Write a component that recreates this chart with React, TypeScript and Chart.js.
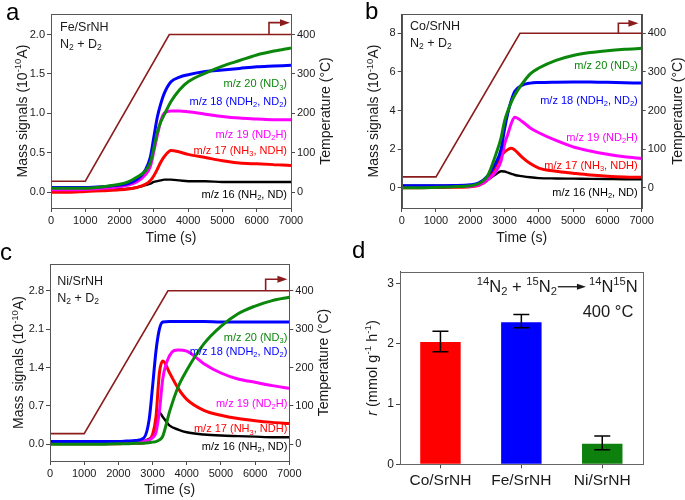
import React, { useEffect, useRef } from 'react';
import { Chart, registerables } from 'chart.js';

Chart.register(...registerables);

const FONT = '"Liberation Sans", Arial, Helvetica, sans-serif';
const TEXT = '#1a1a1a';
const AXIS = '#4a4a4a';
const TEMP_COLOR = '#8b1c1c';
const GREEN = '#0b870b';
const BLUE = '#0000ff';
const MAGENTA = '#ff00ff';
const RED = '#ff0000';
const BLACK = '#000000';

// ---------- data ----------
const TIME = [0, 500, 1000, 1500, 2000, 2250, 2500, 2750, 2900, 3000, 3100, 3200, 3300, 3500, 3750, 4000, 4500, 5000, 5500, 6000, 6500, 7000];
const TIME_TICKS = [0, 1000, 2000, 3000, 4000, 5000, 6000, 7000];
const TEMP_TIME = [0, 1000, 3450, 7000];
const TEMP_C = [28, 28, 400, 400];
const TEMP_TICKS = [0, 100, 200, 300, 400];

// Panel a: Fe/SrNH
const A_GREEN = [0.05, 0.05, 0.05, 0.07, 0.10, 0.13, 0.19, 0.27, 0.38, 0.56, 0.76, 0.89, 0.98, 1.15, 1.30, 1.40, 1.51, 1.60, 1.67, 1.74, 1.79, 1.83];
const A_BLUE = [0.06, 0.06, 0.06, 0.07, 0.09, 0.11, 0.16, 0.28, 0.45, 0.70, 0.95, 1.12, 1.25, 1.40, 1.46, 1.49, 1.53, 1.55, 1.57, 1.59, 1.60, 1.61];
const A_MAGENTA = [0.03, 0.03, 0.035, 0.05, 0.07, 0.09, 0.13, 0.22, 0.33, 0.52, 0.72, 0.90, 1.00, 1.03, 1.03, 1.02, 0.99, 0.96, 0.94, 0.93, 0.92, 0.92];
const A_RED = [0.0, 0.0, 0.01, 0.02, 0.03, 0.04, 0.06, 0.10, 0.15, 0.21, 0.29, 0.38, 0.45, 0.53, 0.51, 0.48, 0.44, 0.40, 0.37, 0.36, 0.35, 0.34];
const A_BLACK = [0.03, 0.03, 0.03, 0.035, 0.04, 0.045, 0.06, 0.09, 0.11, 0.13, 0.14, 0.15, 0.16, 0.16, 0.15, 0.14, 0.14, 0.13, 0.13, 0.13, 0.13, 0.13];
const A_TICKS = [0, 0.5, 1.0, 1.5, 2.0];
const A_LABEL_Y = [1.38, 1.16, 0.74, 0.54, -0.02];

// Panel b: Co/SrNH
const B_GREEN = [0.0, 0.0, 0.02, 0.05, 0.10, 0.22, 0.6, 1.75, 2.6, 3.45, 4.0, 4.45, 4.8, 5.35, 5.9, 6.2, 6.6, 6.85, 7.0, 7.1, 7.17, 7.22];
const B_BLUE = [0.1, 0.1, 0.1, 0.11, 0.15, 0.25, 0.6, 1.3, 2.0, 3.05, 3.9, 4.55, 5.0, 5.3, 5.42, 5.45, 5.47, 5.48, 5.48, 5.46, 5.44, 5.42];
const B_MAGENTA = [0.05, 0.05, 0.05, 0.06, 0.08, 0.15, 0.4, 0.85, 1.4, 2.25, 2.8, 3.35, 3.65, 3.45, 3.1, 2.85, 2.45, 2.12, 1.9, 1.73, 1.6, 1.52];
const B_RED = [0.0, 0.0, 0.01, 0.02, 0.05, 0.12, 0.4, 1.15, 1.65, 1.85, 1.98, 2.04, 1.95, 1.6, 1.25, 1.02, 0.85, 0.75, 0.66, 0.6, 0.56, 0.54];
const B_BLACK = [0.1, 0.1, 0.1, 0.1, 0.12, 0.2, 0.4, 0.7, 0.85, 0.84, 0.78, 0.72, 0.66, 0.6, 0.54, 0.5, 0.48, 0.47, 0.46, 0.45, 0.44, 0.44];
const B_TICKS = [0, 2, 4, 6, 8];
const B_LABEL_Y = [6.36, 4.54, 2.63, 1.18, -0.2];

// Panel c: Ni/SrNH
const C_GREEN = [0.0, 0.0, 0.0, 0.0, 0.01, 0.01, 0.02, 0.02, 0.03, 0.04, 0.05, 0.08, 0.15, 0.6, 1.05, 1.35, 1.83, 2.15, 2.38, 2.52, 2.62, 2.68];
const C_BLUE = [0.05, 0.05, 0.05, 0.05, 0.05, 0.06, 0.07, 0.12, 0.45, 1.05, 1.7, 2.1, 2.23, 2.24, 2.24, 2.24, 2.24, 2.23, 2.23, 2.23, 2.23, 2.23];
const C_MAGENTA = [0.03, 0.03, 0.03, 0.03, 0.03, 0.04, 0.04, 0.06, 0.08, 0.12, 0.22, 0.6, 1.2, 1.62, 1.72, 1.70, 1.47, 1.3, 1.19, 1.13, 1.07, 1.02];
const C_RED = [0.01, 0.01, 0.01, 0.01, 0.01, 0.02, 0.02, 0.03, 0.08, 0.18, 0.5, 1.3, 1.52, 1.3, 1.02, 0.82, 0.62, 0.53, 0.47, 0.43, 0.40, 0.38];
const C_BLACK = [0.02, 0.02, 0.02, 0.02, 0.02, 0.03, 0.04, 0.06, 0.1, 0.14, 0.3, 0.58, 0.5, 0.34, 0.27, 0.22, 0.18, 0.16, 0.15, 0.14, 0.13, 0.13];
const C_TICKS = [0, 0.7, 1.4, 2.1, 2.8];
const C_LABEL_Y = [1.96, 1.70, 0.76, 0.29, -0.03];

const SERIES_LABELS = [
  'm/z 20 (ND_{3})',
  'm/z 18 (NDH_{2}, ND_{2})',
  'm/z 19 (ND_{2}H)',
  'm/z 17 (NH_{3}, NDH)',
  'm/z 16 (NH_{2}, ND)',
];
const SERIES_COLORS = [GREEN, BLUE, MAGENTA, RED, BLACK];

// Panel d
const CATS = ['Co/SrNH', 'Fe/SrNH', 'Ni/SrNH'];
const RATE = [2.03, 2.36, 0.34];
const ERR_HIGH = [2.21, 2.49, 0.47];
const ERR_LOW = [1.87, 2.27, 0.24];
const RATE_TICKS = [0, 1, 2, 3];
const BAR_COLORS = ['#ff0000', '#0000ff', '#0d800d'];

// ---------- rich text ----------
type Seg = { t: string; k: 'n' | 'sub' | 'sup' | 'it' };
function parseRich(s: string): Seg[] {
  const segs: Seg[] = [];
  let buf = '';
  let i = 0;
  while (i < s.length) {
    const c = s[i];
    if ((c === '_' || c === '^' || c === '*') && s[i + 1] === '{') {
      if (buf) { segs.push({ t: buf, k: 'n' }); buf = ''; }
      const end = s.indexOf('}', i + 2);
      segs.push({ t: s.slice(i + 2, end), k: c === '_' ? 'sub' : c === '^' ? 'sup' : 'it' });
      i = end + 1;
    } else { buf += c; i++; }
  }
  if (buf) segs.push({ t: buf, k: 'n' });
  return segs;
}
function segFont(k: string, size: number) {
  const fs = k === 'sub' || k === 'sup' ? size * 0.68 : size;
  return `${k === 'it' ? 'italic ' : ''}${fs}px ${FONT}`;
}
function measureRich(ctx: CanvasRenderingContext2D, s: string, size: number) {
  let w = 0;
  for (const seg of parseRich(s)) { ctx.font = segFont(seg.k, size); w += ctx.measureText(seg.t).width; }
  return w;
}
function drawRich(ctx: CanvasRenderingContext2D, s: string, x: number, y: number, size: number, color: string, align: string) {
  ctx.save();
  ctx.fillStyle = color;
  ctx.textAlign = 'left';
  ctx.textBaseline = 'alphabetic';
  const w = measureRich(ctx, s, size);
  let cx = align === 'right' ? x - w : align === 'center' ? x - w / 2 : x;
  for (const seg of parseRich(s)) {
    ctx.font = segFont(seg.k, size);
    const dy = seg.k === 'sub' ? size * 0.22 : seg.k === 'sup' ? -size * 0.38 : 0;
    ctx.fillText(seg.t, cx, y + dy);
    cx += ctx.measureText(seg.t).width;
  }
  ctx.restore();
  return w;
}
function drawVertical(ctx: CanvasRenderingContext2D, s: string, x: number, y: number, size: number) {
  ctx.save();
  ctx.translate(x, y);
  ctx.rotate(-Math.PI / 2);
  drawRich(ctx, s, 0, size * 0.36, size, TEXT, 'center');
  ctx.restore();
}
function drawFrame(chart: any, color: string) {
  const a = chart.chartArea;
  const ctx = chart.ctx;
  ctx.save();
  ctx.strokeStyle = color;
  ctx.lineWidth = 1;
  ctx.strokeRect(Math.round(a.left) + 0.5, Math.round(a.top) + 0.5, Math.round(a.right) - Math.round(a.left), Math.round(a.bottom) - Math.round(a.top));
  ctx.restore();
}

// ---------- panel layouts ----------
const MS_PANELS = [
  {
    id: 'a', sample: 'Fe/SrNH', left: 0, top: 0, w: 342, h: 250,
    area: { l: 51, r: 291, t: 14, b: 208 },
    yMin: -0.2, yMax: 2.26, y2Min: -40, y2Max: 452, yTicks: A_TICKS, dec: 1,
    green: A_GREEN, blue: A_BLUE, magenta: A_MAGENTA, red: A_RED, black: A_BLACK, labelY: A_LABEL_Y,
    labelInset: 4, titleL: 21.7, titleR: 325, timeDy: 34, sdx: 9, sdy1: 16.5, sdy2: 33.5,
    arrow: { x0: 6358, x1: 6970, top: 430 },
  },
  {
    id: 'b', sample: 'Co/SrNH', left: 342, top: 0, w: 343, h: 250,
    area: { l: 59.7, r: 299.7, t: 14, b: 208 },
    yMin: -1.05, yMax: 9.0, y2Min: -52.5, y2Max: 450, yTicks: B_TICKS, dec: 0,
    green: B_GREEN, blue: B_BLUE, magenta: B_MAGENTA, red: B_RED, black: B_BLACK, labelY: B_LABEL_Y,
    labelInset: 4, titleL: 31.3, titleR: 334.7, timeDy: 34, sdx: 8.3, sdy1: 15.5, sdy2: 32.7,
    arrow: { x0: 6319, x1: 6905, top: 426 },
  },
  {
    id: 'c', sample: 'Ni/SrNH', left: 0, top: 250, w: 342, h: 250,
    area: { l: 50, r: 289.3, t: 14, b: 211 },
    yMin: -0.304, yMax: 3.287, y2Min: -43.4, y2Max: 469.6, yTicks: C_TICKS, dec: 1,
    green: C_GREEN, blue: C_BLUE, magenta: C_MAGENTA, red: C_RED, black: C_BLACK, labelY: C_LABEL_Y,
    labelInset: 2, titleL: 18.3, titleR: 323.3, timeDy: 33, sdx: 7.3, sdy1: 21, sdy2: 37.7,
    arrow: { x0: 6308, x1: 6945, top: 430 },
  },
];

const gridOpts = { display: true, drawOnChartArea: false, drawTicks: true, tickLength: 4, tickColor: AXIS, lineWidth: 1 };
const borderOpts = { display: true, color: AXIS, width: 1 };

function msConfig(p: any): any {
  const pts = (vals: number[]) => TIME.map((t, i) => ({ x: t, y: vals[i] }));
  const lines = [p.green, p.blue, p.magenta, p.red, p.black].map((vals: number[], i: number) => ({
    data: pts(vals),
    yAxisID: 'y',
    borderColor: SERIES_COLORS[i],
    backgroundColor: SERIES_COLORS[i],
    borderWidth: i === 4 ? 2.4 : 3,
    pointRadius: 0,
    cubicInterpolationMode: 'monotone',
    fill: false,
  }));
  const temp = {
    data: TEMP_TIME.map((t, i) => ({ x: t, y: TEMP_C[i] })),
    yAxisID: 'y2',
    borderColor: TEMP_COLOR,
    borderWidth: 1.6,
    pointRadius: 0,
    tension: 0,
    fill: false,
  };
  const tickFont = { family: FONT, size: 11 };
  return {
    type: 'line',
    data: { datasets: [...lines, temp] },
    options: {
      responsive: false,
      animation: false,
      events: [],
      layout: { padding: { top: p.area.t, left: 0, right: 0, bottom: 0 } },
      plugins: { legend: { display: false }, tooltip: { enabled: false } },
      scales: {
        x: {
          type: 'linear', min: 0, max: 7000,
          afterBuildTicks: (s: any) => { s.ticks = TIME_TICKS.map((v) => ({ value: v })); },
          afterFit: (s: any) => { s.height = p.h - p.area.b; },
          ticks: { font: tickFont, color: TEXT, padding: 2, maxRotation: 0, autoSkip: false, callback: (v: any) => String(v) },
          grid: gridOpts, border: borderOpts,
        },
        y: {
          type: 'linear', position: 'left', min: p.yMin, max: p.yMax,
          afterBuildTicks: (s: any) => { s.ticks = p.yTicks.map((v: number) => ({ value: v })); },
          afterFit: (s: any) => { s.width = p.area.l; },
          ticks: { font: tickFont, color: TEXT, padding: 2, callback: (v: any) => Number(v).toFixed(p.dec) },
          grid: gridOpts, border: borderOpts,
        },
        y2: {
          type: 'linear', position: 'right', min: p.y2Min, max: p.y2Max,
          afterBuildTicks: (s: any) => { s.ticks = TEMP_TICKS.map((v) => ({ value: v })); },
          afterFit: (s: any) => { s.width = p.w - p.area.r; },
          ticks: { font: tickFont, color: TEXT, padding: 2, callback: (v: any) => String(v) },
          grid: gridOpts, border: borderOpts,
        },
      },
    },
    plugins: [
      {
        id: 'msDecor' + p.id,
        afterDraw(chart: any) {
          const ctx = chart.ctx;
          const a = chart.chartArea;
          drawFrame(chart, '#555');
          // heating arrow
          const xs = chart.scales.x;
          const ts = chart.scales.y2;
          const x0 = xs.getPixelForValue(p.arrow.x0);
          const x1 = xs.getPixelForValue(p.arrow.x1);
          const yb = ts.getPixelForValue(400);
          const yt = ts.getPixelForValue(p.arrow.top);
          ctx.save();
          ctx.strokeStyle = TEMP_COLOR;
          ctx.fillStyle = TEMP_COLOR;
          ctx.lineWidth = 1.6;
          ctx.beginPath();
          ctx.moveTo(x0, yb);
          ctx.lineTo(x0, yt);
          ctx.lineTo(x1 - 8, yt);
          ctx.stroke();
          ctx.beginPath();
          ctx.moveTo(x1, yt);
          ctx.lineTo(x1 - 10, yt - 3.5);
          ctx.lineTo(x1 - 10, yt + 3.5);
          ctx.closePath();
          ctx.fill();
          ctx.restore();
          // series labels
          SERIES_LABELS.forEach((txt, i) => {
            const y = chart.scales.y.getPixelForValue(p.labelY[i]);
            drawRich(ctx, txt, a.right - p.labelInset, y + 11 * 0.36, 11, SERIES_COLORS[i], 'right');
          });
          // sample
          drawRich(ctx, p.sample, a.left + p.sdx, a.top + p.sdy1, 12.5, TEXT, 'left');
          drawRich(ctx, 'N_{2} + D_{2}', a.left + p.sdx, a.top + p.sdy2, 12.5, TEXT, 'left');
          // axis titles
          const midY = (a.top + a.bottom) / 2;
          drawVertical(ctx, 'Mass signals (10^{-10}A)', p.titleL, midY, 14);
          drawVertical(ctx, 'Temperature (°C)', p.titleR, midY, 14);
          drawRich(ctx, 'Time (s)', (a.left + a.right) / 2, a.bottom + p.timeDy, 14, TEXT, 'center');
        },
      },
    ],
  };
}

const D_PANEL = { left: 342, top: 250, w: 343, h: 250, area: { l: 58, r: 300.7, t: 21.7, b: 214.3 } };

function barConfig(): any {
  const p = D_PANEL;
  return {
    type: 'bar',
    data: {
      labels: CATS,
      datasets: [{ data: RATE, backgroundColor: BAR_COLORS, borderWidth: 0, barPercentage: 0.5, categoryPercentage: 1 }],
    },
    options: {
      responsive: false,
      animation: false,
      events: [],
      layout: { padding: { top: p.area.t, right: p.w - p.area.r, left: 0, bottom: 0 } },
      plugins: { legend: { display: false }, tooltip: { enabled: false } },
      scales: {
        x: {
          afterFit: (s: any) => { s.height = p.h - p.area.b; },
          ticks: { font: { family: FONT, size: 15.5 }, color: TEXT, padding: 3, maxRotation: 0 },
          grid: { ...gridOpts, offset: false },
          border: borderOpts,
        },
        y: {
          min: 0, max: 3.2,
          afterBuildTicks: (s: any) => { s.ticks = RATE_TICKS.map((v) => ({ value: v })); },
          afterFit: (s: any) => { s.width = p.area.l; },
          ticks: { font: { family: FONT, size: 12 }, color: TEXT, padding: 2, callback: (v: any) => String(v) },
          grid: gridOpts, border: borderOpts,
        },
      },
    },
    plugins: [
      {
        id: 'dDecor',
        afterDatasetsDraw(chart: any) {
          const ctx = chart.ctx;
          const ys = chart.scales.y;
          const meta = chart.getDatasetMeta(0);
          ctx.save();
          ctx.strokeStyle = '#000';
          ctx.lineWidth = 1.5;
          meta.data.forEach((bar: any, i: number) => {
            const x = bar.x;
            const yh = ys.getPixelForValue(ERR_HIGH[i]);
            const yl = ys.getPixelForValue(ERR_LOW[i]);
            ctx.beginPath();
            ctx.moveTo(x, yh); ctx.lineTo(x, yl);
            ctx.moveTo(x - 8, yh); ctx.lineTo(x + 8, yh);
            ctx.moveTo(x - 8, yl); ctx.lineTo(x + 8, yl);
            ctx.stroke();
          });
          ctx.restore();
        },
        afterDraw(chart: any) {
          const ctx = chart.ctx;
          const a = chart.chartArea;
          drawFrame(chart, '#666');
          // reaction equation
          const size = 16.5;
          const lhs = '^{14}N_{2} + ^{15}N_{2}';
          const rhs = '^{14}N^{15}N';
          const arrowLen = 28;
          const wl = measureRich(ctx, lhs, size);
          const wr = measureRich(ctx, rhs, size);
          const total = wl + 1 + arrowLen + 3 + wr;
          const base = a.top + 20;
          let x = a.right - 5 - total;
          drawRich(ctx, lhs, x, base, size, TEXT, 'left');
          x += wl + 1;
          const ay = base - size * 0.3;
          ctx.save();
          ctx.strokeStyle = TEXT;
          ctx.fillStyle = TEXT;
          ctx.lineWidth = 1.3;
          ctx.beginPath();
          ctx.moveTo(x, ay); ctx.lineTo(x + arrowLen - 6, ay);
          ctx.stroke();
          ctx.beginPath();
          ctx.moveTo(x + arrowLen, ay);
          ctx.lineTo(x + arrowLen - 9, ay - 3);
          ctx.lineTo(x + arrowLen - 9, ay + 3);
          ctx.closePath();
          ctx.fill();
          ctx.restore();
          x += arrowLen + 3;
          drawRich(ctx, rhs, x, base, size, TEXT, 'left');
          drawRich(ctx, '400 °C', a.right - 9.4, a.top + 45, size, TEXT, 'right');
          // y title
          drawVertical(ctx, '*{r} (mmol g^{-1} h^{-1})', 29.7, (a.top + a.bottom) / 2, 14.5);
        },
      },
    ],
  };
}

function ChartCanvas(props: { make: () => any; left: number; top: number; w: number; h: number }) {
  const ref = useRef<HTMLCanvasElement | null>(null);
  useEffect(() => {
    const chart = new Chart(ref.current as HTMLCanvasElement, props.make());
    return () => chart.destroy();
  }, []);
  return (
    <canvas
      ref={ref}
      width={props.w}
      height={props.h}
      style={{ position: 'absolute', left: props.left, top: props.top, width: props.w, height: props.h }}
    />
  );
}

const LETTERS = [
  { t: 'a', left: 6, top: 0 },
  { t: 'b', left: 365, top: -1 },
  { t: 'c', left: 0, top: 240 },
  { t: 'd', left: 352, top: 238 },
];

export default function App() {
  return (
    <div style={{ position: 'absolute', left: 0, top: 0, width: 685, height: 500, background: '#fff', overflow: 'hidden' }}>
      {MS_PANELS.map((p) => (
        <ChartCanvas key={p.id} make={() => msConfig(p)} left={p.left} top={p.top} w={p.w} h={p.h} />
      ))}
      <ChartCanvas make={barConfig} left={D_PANEL.left} top={D_PANEL.top} w={D_PANEL.w} h={D_PANEL.h} />
      {LETTERS.map((l) => (
        <div
          key={l.t}
          style={{ position: 'absolute', left: l.left, top: l.top, font: `24px ${FONT}`, lineHeight: '24px', color: '#000' }}
        >
          {l.t}
        </div>
      ))}
    </div>
  );
}
